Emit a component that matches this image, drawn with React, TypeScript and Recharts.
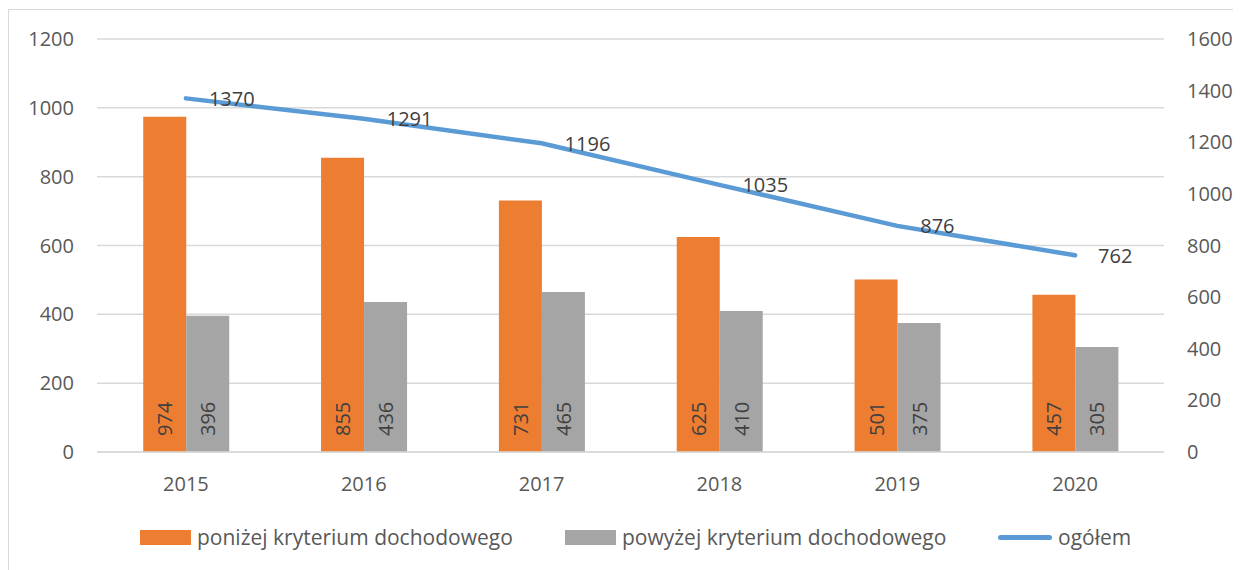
import {
  ComposedChart,
  Bar,
  Line,
  XAxis,
  YAxis,
  CartesianGrid,
  LabelList,
  Legend,
} from "recharts";

const years = ["2015", "2016", "2017", "2018", "2019", "2020"];
const belowCriterion = [974, 855, 731, 625, 501, 457];
const aboveCriterion = [396, 436, 465, 410, 375, 305];
const total = [1370, 1291, 1196, 1035, 876, 762];
const leftTicks = [0, 200, 400, 600, 800, 1000, 1200];
const rightTicks = [0, 200, 400, 600, 800, 1000, 1200, 1400, 1600];

const FONT = "'Open Sans', 'Noto Sans', sans-serif";

const data = years.map((year, i) => ({
  year,
  below: belowCriterion[i],
  above: aboveCriterion[i],
  total: total[i],
}));

interface BarLabelProps {
  x?: number;
  y?: number;
  width?: number;
  height?: number;
  value?: number;
}

const renderBarLabel = ({ x = 0, y = 0, width = 0, height = 0, value }: BarLabelProps) => {
  const cx = x + width / 2;
  const bottom = y + height - 16;
  return (
    <text
      x={cx}
      y={bottom}
      transform={`rotate(-90 ${cx} ${bottom})`}
      textAnchor="start"
      dominantBaseline="central"
      fill="#404040"
      fontSize={20}
      fontFamily={FONT}
    >
      {value}
    </text>
  );
};

interface LineLabelProps {
  x?: number;
  y?: number;
  value?: number;
}

const renderLineLabel = ({ x = 0, y = 0, value }: LineLabelProps) => (
  <text
    x={x + 23}
    y={y}
    textAnchor="start"
    dominantBaseline="central"
    fill="#404040"
    fontSize={20}
    fontFamily={FONT}
  >
    {value}
  </text>
);

const legendItems = [
  { label: "poniżej kryterium dochodowego", color: "#ED7D31", kind: "box", left: 131 },
  { label: "powyżej kryterium dochodowego", color: "#A5A5A5", kind: "box", left: 556 },
  { label: "ogółem", color: "#5B9BD5", kind: "line", left: 989 },
];

const renderLegend = () => (
  <div style={{ position: "relative", height: 30, fontFamily: FONT, fontSize: 21, color: "#595959" }}>
    {legendItems.map((item) => (
      <div
        key={item.label}
        style={{
          position: "absolute",
          left: item.left,
          top: 0,
          height: 30,
          display: "flex",
          alignItems: "center",
          whiteSpace: "nowrap",
        }}
      >
        {item.kind === "box" ? (
          <span style={{ display: "inline-block", width: 51, height: 15, background: item.color }} />
        ) : (
          <span
            style={{
              display: "inline-block",
              width: 54,
              height: 5,
              borderRadius: 3,
              background: item.color,
            }}
          />
        )}
        <span style={{ marginLeft: 6 }}>{item.label}</span>
      </div>
    ))}
  </div>
);

const App = () => {
  return (
    <div
      style={{
        marginTop: 1,
        width: 1250,
        height: 580,
        border: "1px solid #d9d9d9",
        background: "#fff",
      }}
    >
      <ComposedChart
        width={1240}
        height={560}
        data={data}
        margin={{ top: 29, right: 0, bottom: 18, left: 0 }}
        barCategoryGap="26%"
        barGap={0}
      >
        <CartesianGrid yAxisId="left" vertical={false} stroke="#d9d9d9" strokeWidth={1.5} />
        <XAxis
          dataKey="year"
          height={70}
          tickLine={false}
          tickSize={0}
          tickMargin={25}
          axisLine={{ stroke: "#d9d9d9", strokeWidth: 1.5 }}
          tick={{ fill: "#595959", fontSize: 20, fontFamily: FONT }}
        />
        <YAxis
          yAxisId="left"
          width={88}
          domain={[0, 1200]}
          ticks={leftTicks}
          axisLine={false}
          tickLine={false}
          tickSize={0}
          tickMargin={23}
          tick={{ fill: "#595959", fontSize: 20, fontFamily: FONT }}
        />
        <YAxis
          yAxisId="right"
          orientation="right"
          width={85}
          domain={[0, 1600]}
          ticks={rightTicks}
          axisLine={false}
          tickLine={false}
          tickSize={0}
          tickMargin={23}
          tick={{ fill: "#595959", fontSize: 20, fontFamily: FONT, textAnchor: "start" }}
        />
        <Legend verticalAlign="bottom" height={30} content={renderLegend} />
        <Bar
          yAxisId="left"
          dataKey="below"
          name="poniżej kryterium dochodowego"
          fill="#ED7D31"
          isAnimationActive={false}
        >
          <LabelList dataKey="below" content={renderBarLabel} />
        </Bar>
        <Bar
          yAxisId="left"
          dataKey="above"
          name="powyżej kryterium dochodowego"
          fill="#A5A5A5"
          isAnimationActive={false}
        >
          <LabelList dataKey="above" content={renderBarLabel} />
        </Bar>
        <Line
          yAxisId="right"
          dataKey="total"
          name="ogółem"
          stroke="#5B9BD5"
          strokeWidth={4.5}
          strokeLinecap="round"
          dot={false}
          activeDot={false}
          isAnimationActive={false}
        >
          <LabelList dataKey="total" content={renderLineLabel} />
        </Line>
      </ComposedChart>
    </div>
  );
};

export default App;
